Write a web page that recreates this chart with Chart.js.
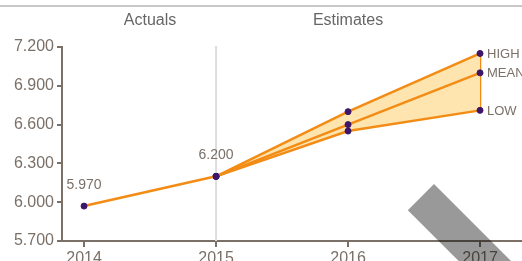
<!DOCTYPE html>
<html>
<head>
<meta charset="utf-8">
<script src="https://cdn.jsdelivr.net/npm/chart.js@4/dist/chart.umd.min.js"></script>
<style>
  html, body { margin: 0; padding: 0; background: #fff; }
  #wrap { position: relative; width: 522px; height: 261px; overflow: hidden; }
</style>
</head>
<body>
<div id="wrap"><canvas id="chart" width="522" height="261"></canvas></div>
<script>
const years = [2014, 2015, 2016, 2017]
const actuals = [5.97, 6.2, null, null]
const highs = [null, 6.2, 6.7, 7.15]
const means = [null, 6.2, 6.6, 7.0]
const lows = [null, 6.2, 6.55, 6.71]
const yTicks = [5.7, 6.0, 6.3, 6.6, 6.9, 7.2]
const sectionLabels = ['Actuals', 'Estimates']
const actualLabels = ['5.970', '6.200']
const rangeLabels = ['HIGH', 'MEAN', 'LOW']

const ORANGE = '#f28c14'
const PURPLE = '#3c1668'
const AXIS = '#7a7068'
const FONT = '"Liberation Sans", Arial, sans-serif'

const toPoints = (values) => years.map((x, i) => ({ x, y: values[i] }))
const last = years.length - 1

const lineStyle = {
  borderColor: ORANGE,
  borderWidth: 2.5,
  pointBackgroundColor: PURPLE,
  pointBorderColor: PURPLE,
  pointRadius: 3,
  pointBorderWidth: 1,
  tension: 0,
  spanGaps: false,
  clip: false,
}

const extras = {
  id: 'extras',
  beforeDatasetsDraw(chart) {
    const { ctx, chartArea, scales } = chart
    const x = scales.x.getPixelForValue(years[1])
    ctx.save()
    ctx.strokeStyle = '#dddddd'
    ctx.lineWidth = 2
    ctx.beginPath()
    ctx.moveTo(x, chartArea.top - 1)
    ctx.lineTo(x, chartArea.bottom)
    ctx.stroke()
    ctx.restore()
  },
  afterDatasetsDraw(chart) {
    const { ctx, scales } = chart
    ctx.save()
    ctx.fillStyle = AXIS

    // values above the actuals
    ctx.font = `14px ${FONT}`
    ctx.textAlign = 'center'
    ctx.textBaseline = 'middle'
    actualLabels.forEach((label, i) => {
      ctx.fillText(label, scales.x.getPixelForValue(years[i]), scales.y.getPixelForValue(actuals[i]) - 21)
    })

    // range names next to the last estimate
    ctx.font = `13px ${FONT}`
    ctx.textAlign = 'left'
    const lx = scales.x.getPixelForValue(years[last]) + 7
    ;[highs, means, lows].forEach((series, i) => {
      ctx.fillText(rangeLabels[i], lx, scales.y.getPixelForValue(series[last]) + 1)
    })

    // section headers
    ctx.fillStyle = '#666666'
    ctx.font = `16px ${FONT}`
    ctx.textAlign = 'center'
    const x0 = scales.x.getPixelForValue(years[0])
    const x1 = scales.x.getPixelForValue(years[1])
    const x3 = scales.x.getPixelForValue(years[last])
    ctx.fillText(sectionLabels[0], (x0 + x1) / 2, 21)
    ctx.fillText(sectionLabels[1], (x1 + x3) / 2, 21)

    // top rule
    ctx.strokeStyle = '#c8c8c8'
    ctx.lineWidth = 2
    ctx.beginPath()
    ctx.moveTo(0, 6)
    ctx.lineTo(chart.width, 6)
    ctx.stroke()
    ctx.restore()
  },
  afterDraw(chart) {
    const { ctx } = chart
    ctx.save()
    ctx.fillStyle = 'rgba(0, 0, 0, 0.4)'
    ctx.translate(434, 184)
    ctx.rotate(Math.PI / 4)
    ctx.fillRect(0, 0, 200, 37)
    ctx.restore()
  },
}

const chart = new Chart(document.getElementById('chart'), {
  type: 'line',
  data: {
    datasets: [
      { ...lineStyle, label: 'Actuals', data: toPoints(actuals) },
      { ...lineStyle, label: 'Mean', data: toPoints(means) },
      { ...lineStyle, label: 'Low', data: toPoints(lows) },
      { ...lineStyle, label: 'High', data: toPoints(highs), fill: { target: 2 }, backgroundColor: '#fee5b0' },
      {
        ...lineStyle,
        label: 'Spread',
        pointRadius: 0,
        data: [{ x: years[last], y: lows[last] }, { x: years[last], y: highs[last] }],
      },
    ],
  },
  options: {
    responsive: false,
    animation: false,
    layout: { autoPadding: false, padding: { top: 47, right: 0, left: 0, bottom: 0 } },
    plugins: { legend: { display: false }, tooltip: { enabled: false } },
    scales: {
      x: {
        type: 'linear',
        min: 2013.833,
        max: 2017.318,
        afterBuildTicks: (axis) => { axis.ticks = years.map((value) => ({ value })) },
        afterFit: (axis) => {
          axis.height = 20
          axis.paddingLeft = 0
          axis.paddingRight = 0
        },
        border: { color: AXIS, width: 2 },
        grid: { drawOnChartArea: false, drawTicks: true, tickLength: 6, color: AXIS, lineWidth: 2 },
        ticks: { color: AXIS, font: { family: FONT, size: 16 }, padding: 2, callback: (v) => String(v), maxRotation: 0, autoSkip: false },
      },
      y: {
        min: yTicks[0],
        max: yTicks[yTicks.length - 1],
        afterBuildTicks: (axis) => { axis.ticks = yTicks.map((value) => ({ value })) },
        afterFit: (axis) => { axis.width = 62 },
        border: { color: AXIS, width: 2 },
        grid: { drawOnChartArea: false, drawTicks: true, tickLength: 5, color: AXIS, lineWidth: 2 },
        ticks: { color: AXIS, font: { family: FONT, size: 16 }, padding: 3, callback: (v) => Number(v).toFixed(3) },
      },
    },
  },
  plugins: [extras],
})
</script>
</body>
</html>
